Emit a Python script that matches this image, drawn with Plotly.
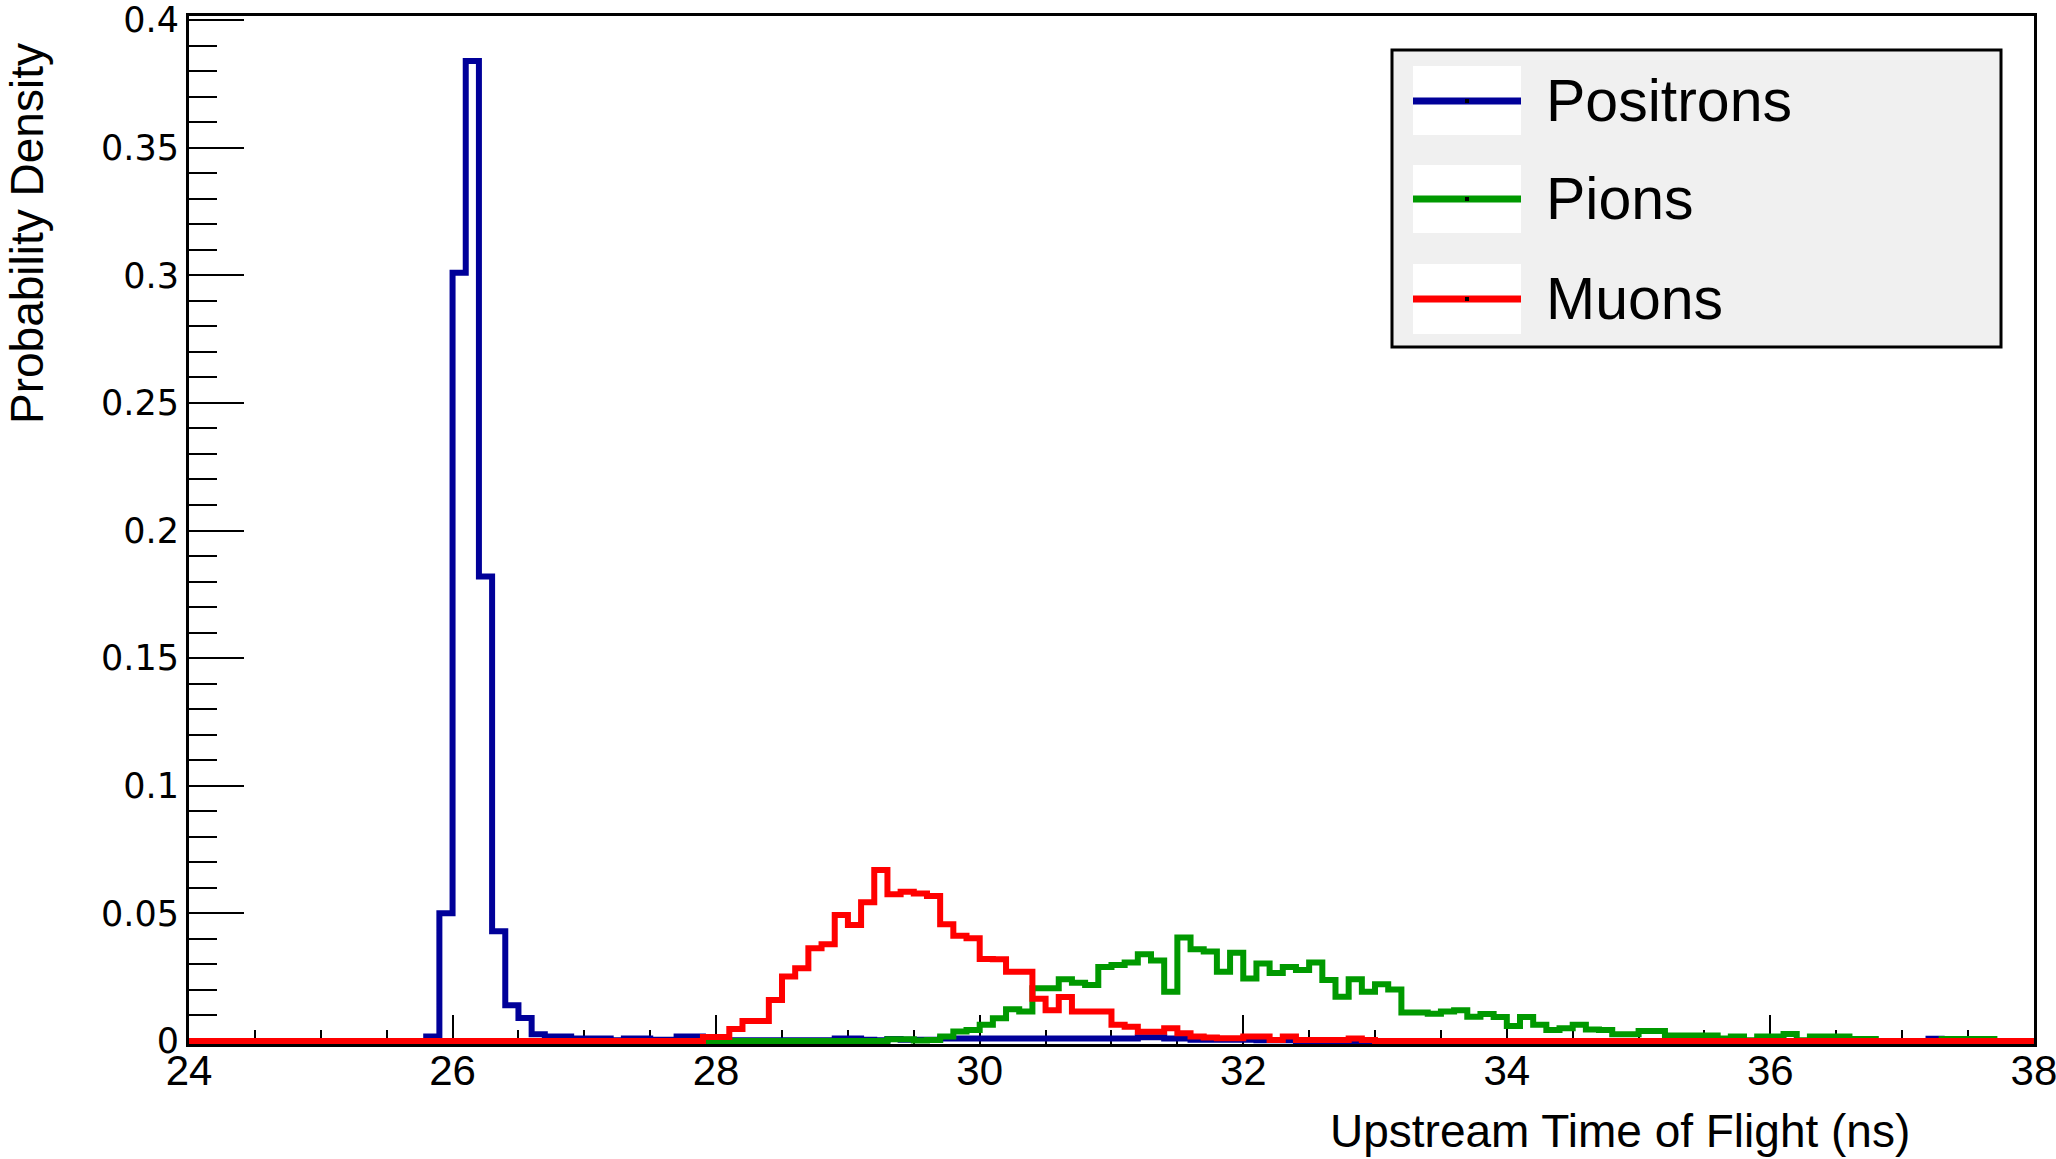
import numpy as np
import plotly.graph_objects as go

# Histogram binning (ns)
X_MIN, X_MAX, BIN_WIDTH = 24.0, 38.0, 0.1

# Probability density per 0.1 ns bin, one row per ns starting at 24.0
positrons = [
    0, 0, 0, 0, 0, 0, 0, 0, 0, 0,                                        # 24
    0, 0, 0, 0, 0, 0, 0, 0, 0.0017, 0.050,                               # 25
    0.301, 0.384, 0.182, 0.043, 0.014, 0.009, 0.0026, 0.0017, 0.0017, 0.001,  # 26
    0.001, 0.001, 0.0003, 0.001, 0.001, 0.0005, 0.0005, 0.0017, 0.0017, 0.0005,  # 27
    0.0003, 0.0003, 0.0003, 0.0003, 0.0003, 0.0003, 0.0003, 0.0003, 0.0003, 0.001,  # 28
    0.001, 0.0005, 0.0003, 0.0008, 0.0005, 0.0005, 0.0005, 0.001, 0.001, 0.001,  # 29
    0.001, 0.001, 0.001, 0.001, 0.001, 0.001, 0.001, 0.001, 0.001, 0.001,  # 30
    0.001, 0.001, 0.0014, 0.0014, 0.001, 0.001, 0.0005, 0.0005, 0.0005, 0.0005,  # 31
    0.0005, 0.0003, 0.0003, 0.0003, 0, 0, 0, 0, 0, 0,                    # 32
    0, 0, 0, 0, 0, 0, 0, 0, 0, 0,                                        # 33
    0, 0, 0, 0, 0, 0, 0, 0, 0, 0,                                        # 34
    0, 0, 0, 0, 0, 0, 0, 0, 0, 0,                                        # 35
    0, 0, 0, 0, 0, 0, 0, 0, 0, 0,                                        # 36
    0, 0, 0.0009, 0, 0, 0, 0, 0, 0, 0,                                   # 37
]

pions = [
    0, 0, 0, 0, 0, 0, 0, 0, 0, 0,                                        # 24
    0, 0, 0, 0, 0, 0, 0, 0, 0, 0,                                        # 25
    0, 0, 0, 0, 0, 0, 0, 0, 0, 0,                                        # 26
    0, 0, 0, 0, 0, 0, 0, 0, 0, 0,                                        # 27
    0, 0, 0, 0, 0, 0, 0, 0, 0, 0,                                        # 28
    0, 0, 0, 0.0007, 0.0007, 0.0002, 0.0004, 0.0017, 0.0037, 0.0043,     # 29
    0.0063, 0.0089, 0.0124, 0.0115, 0.0206, 0.0206, 0.0242, 0.0228, 0.0219, 0.029,  # 30
    0.0298, 0.0307, 0.034, 0.0315, 0.0193, 0.0405, 0.0359, 0.035, 0.0271, 0.0346,  # 31
    0.0245, 0.0303, 0.0266, 0.029, 0.0278, 0.0307, 0.0239, 0.0173, 0.0242, 0.0193,  # 32
    0.0222, 0.0202, 0.0111, 0.0111, 0.0107, 0.0115, 0.012, 0.0095, 0.0106, 0.0094,  # 33
    0.0059, 0.0094, 0.0063, 0.0043, 0.005, 0.0063, 0.0045, 0.0043, 0.0026, 0.0026,  # 34
    0.0039, 0.0039, 0.0021, 0.0021, 0.0021, 0.0021, 0.001, 0.0017, 0.0003, 0.0017,  # 35
    0.0017, 0.0027, 0.0003, 0.0017, 0.0017, 0.0017, 0.0008, 0.0008, 0, 0,  # 36
    0, 0, 0, 0.0008, 0.0008, 0.0008, 0.0008, 0, 0, 0,                    # 37
]

muons = [
    0, 0, 0, 0, 0, 0, 0, 0, 0, 0,                                        # 24
    0, 0, 0, 0, 0, 0, 0, 0, 0, 0,                                        # 25
    0, 0, 0, 0, 0, 0, 0, 0, 0, 0,                                        # 26
    0, 0, 0, 0, 0, 0, 0, 0, 0, 0.0015,                                   # 27
    0.0015, 0.0047, 0.0078, 0.0078, 0.016, 0.0252, 0.0285, 0.0363, 0.0379, 0.0493,  # 28
    0.0454, 0.0543, 0.067, 0.0575, 0.0585, 0.0578, 0.0568, 0.0457, 0.0412, 0.0402,  # 29
    0.0321, 0.032, 0.0271, 0.0271, 0.0165, 0.012, 0.0172, 0.0115, 0.0115, 0.0115,  # 30
    0.0063, 0.0056, 0.0036, 0.0036, 0.005, 0.003, 0.0017, 0.0013, 0.0011, 0.0011,  # 31
    0.0017, 0.0017, 0.0004, 0.0017, 0.0004, 0.0004, 0.0004, 0.0004, 0.001, 0.0004,  # 32
    0, 0, 0, 0, 0, 0, 0, 0, 0, 0,                                        # 33
    0, 0, 0, 0, 0, 0, 0, 0, 0, 0,                                        # 34
    0, 0, 0, 0, 0, 0, 0, 0, 0, 0,                                        # 35
    0, 0, 0, 0, 0, 0, 0, 0, 0, 0,                                        # 36
    0, 0, 0, 0, 0, 0, 0, 0, 0, 0,                                        # 37
]

series_names = ["Positrons", "Pions", "Muons"]
series_values = [positrons, pions, muons]
series_colors = ["#000099", "#009900", "#ff0000"]

x_ticks = [24, 26, 28, 30, 32, 34, 36, 38]
y_ticks = [0, 0.05, 0.1, 0.15, 0.2, 0.25, 0.3, 0.35, 0.4]
y_tick_text = ["0", "0.05", "0.1", "0.15", "0.2", "0.25", "0.3", "0.35", "0.4"]

# Canvas and plot-frame geometry (pixels)
W, H = 2056, 1159
PL, PR, PT, PB = 189, 2034, 16, 1044


def px_x(px):
    return (px - PL) / (PR - PL)


def px_y(py):
    return (PB - py) / (PB - PT)


def step_outline(values):
    edges = X_MIN + BIN_WIDTH * np.arange(len(values) + 1)
    return edges, list(values) + [values[-1]]


fig = go.Figure()
for name, vals, color in zip(series_names, series_values, series_colors):
    xs, ys = step_outline(vals)
    fig.add_trace(go.Scatter(
        x=xs, y=ys, mode="lines", name=name,
        line=dict(color=color, width=6, shape="hv"),
        hoverinfo="skip", showlegend=False,
    ))

tick_font_x = dict(family="Liberation Sans, Arial, sans-serif", size=42, color="black")
tick_font_y = dict(family="DejaVu Sans, sans-serif", size=35, color="black")

fig.update_layout(
    width=W, height=H,
    margin=dict(l=PL, r=W - PR, t=PT, b=H - PB, pad=0, autoexpand=False),
    paper_bgcolor="white", plot_bgcolor="white",
    showlegend=False,
    xaxis=dict(
        range=[X_MIN, X_MAX + 0.0005], tickvals=x_ticks, ticktext=[str(v) for v in x_ticks],
        ticks="inside", ticklen=29, tickwidth=2, tickcolor="black",
        minor=dict(dtick=0.5, tick0=24, ticks="inside", ticklen=14, tickwidth=2, tickcolor="black"),
        showline=True, linecolor="black", linewidth=3, mirror=True,
        showgrid=False, zeroline=False, tickfont=tick_font_x, layer="below traces",
        automargin=False, ticklabeloverflow="allow", ticklabelstandoff=-12,
    ),
    yaxis=dict(
        range=[-0.0012, 0.4016], tickvals=y_ticks, ticktext=y_tick_text,
        ticks="inside", ticklen=55, tickwidth=2, tickcolor="black",
        minor=dict(dtick=0.01, tick0=0, ticks="inside", ticklen=28, tickwidth=2, tickcolor="black"),
        showline=True, linecolor="black", linewidth=3, mirror=True,
        showgrid=False, zeroline=False, tickfont=tick_font_y, layer="below traces",
        automargin=False, ticklabeloverflow="allow",
    ),
)

title_font = dict(family="Liberation Sans, Arial, sans-serif", size=46, color="black")
annotations = [
    dict(text="Probability Density", textangle=-90, xref="paper", yref="paper",
         x=px_x(27), y=px_y(234), xanchor="center", yanchor="middle",
         showarrow=False, font=title_font),
    dict(text="Upstream Time of Flight (ns)", xref="paper", yref="paper",
         x=px_x(1912), y=px_y(1131), xanchor="right", yanchor="middle",
         showarrow=False, font=title_font),
]

# Legend box drawn by hand: grey panel, white sample boxes, coloured lines
shapes = [
    dict(type="rect", xref="paper", yref="paper",
         x0=px_x(1392), x1=px_x(2001), y0=px_y(347), y1=px_y(50),
         fillcolor="#f0f0f0", line=dict(color="black", width=3), layer="above"),
]
legend_rows = [(66, 135, 101), (165, 233, 199), (264, 334, 299)]
for (top, bottom, mid), name, color in zip(legend_rows, series_names, series_colors):
    shapes.append(dict(type="rect", xref="paper", yref="paper",
                       x0=px_x(1413), x1=px_x(1521), y0=px_y(bottom), y1=px_y(top),
                       fillcolor="white", line=dict(width=0), layer="above"))
    shapes.append(dict(type="line", xref="paper", yref="paper",
                       x0=px_x(1413), x1=px_x(1521), y0=px_y(mid), y1=px_y(mid),
                       line=dict(color=color, width=7), layer="above"))
    shapes.append(dict(type="rect", xref="paper", yref="paper",
                       x0=px_x(1465), x1=px_x(1469), y0=px_y(mid + 2), y1=px_y(mid - 2),
                       fillcolor="black", line=dict(width=0), layer="above"))
    annotations.append(dict(text=name, xref="paper", yref="paper",
                            x=px_x(1544), y=px_y(mid), xanchor="left", yanchor="middle",
                            showarrow=False,
                            font=dict(family="Liberation Sans, Arial, sans-serif", size=59, color="black")))

fig.update_layout(shapes=shapes, annotations=annotations)

fig.write_html("out.html")
